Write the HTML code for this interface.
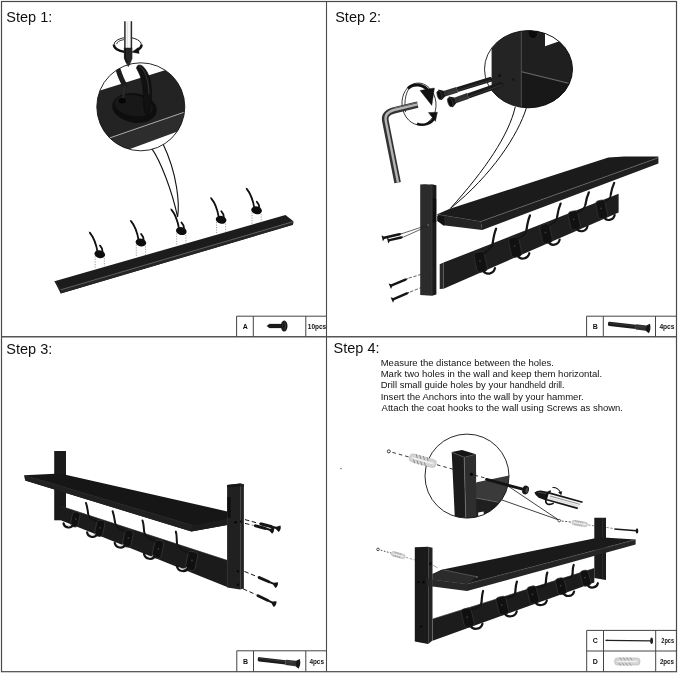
<!DOCTYPE html>
<html><head><meta charset="utf-8"><title>Assembly steps</title>
<style>html,body{margin:0;padding:0;background:#fff}svg{display:block;font-family:"Liberation Sans",sans-serif;will-change:transform;opacity:.999}</style>
</head><body>
<svg width="679" height="674" viewBox="0 0 679 674">
<rect width="679" height="674" fill="#fff"/>
<rect x="1.5" y="1.5" width="675" height="670.2" fill="none" stroke="#4a4a4a" stroke-width="1.2"/>
<line x1="326.5" y1="1.5" x2="326.5" y2="671.7" stroke="#4a4a4a" stroke-width="1.1" />
<line x1="1.5" y1="336.7" x2="676.5" y2="336.7" stroke="#555" stroke-width="1.4" />
<text x="6.3" y="21.8" font-size="14.5" fill="#111">Step 1:</text>
<text x="335.2" y="22.0" font-size="14.5" fill="#111">Step 2:</text>
<text x="6.3" y="353.6" font-size="14.5" fill="#111">Step 3:</text>
<text x="333.6" y="353.0" font-size="14.5" fill="#111">Step 4:</text>
<g stroke="#444" stroke-width="1" fill="none">
<path d="M236.6 316.2 H326.5 M236.6 316.2 V336.7 M253.3 316.2 V336.7 M305.8 316.2 V336.7"/>
</g>
<text x="245.2" y="329.1" font-size="7" font-weight="bold" text-anchor="middle" fill="#111">A</text>
<text x="307.8" y="328.6" font-size="7" font-weight="bold" fill="#111" textLength="18.4" lengthAdjust="spacingAndGlyphs">10pcs</text>
<g stroke="#444" stroke-width="1" fill="none">
<path d="M586.6 316.2 H676.5 M586.6 316.2 V336.7 M603.3 316.2 V336.7 M655.5 316.2 V336.7"/>
</g>
<text x="595.2" y="329.1" font-size="7" font-weight="bold" text-anchor="middle" fill="#111">B</text>
<text x="659.4" y="328.6" font-size="7" font-weight="bold" fill="#111" textLength="15.1" lengthAdjust="spacingAndGlyphs">4pcs</text>
<g stroke="#444" stroke-width="1" fill="none">
<path d="M236.8 650.8 H326.5 M236.8 650.8 V671.7 M253.5 650.8 V671.7 M305.8 650.8 V671.7"/>
</g>
<text x="245.5" y="663.9" font-size="7" font-weight="bold" text-anchor="middle" fill="#111">B</text>
<text x="309.4" y="663.5" font-size="7" font-weight="bold" fill="#111" textLength="14.6" lengthAdjust="spacingAndGlyphs">4pcs</text>
<g stroke="#444" stroke-width="1" fill="none">
<path d="M586.7 630.4 H676.5 M586.7 630.4 V671.7 M603.5 630.4 V671.7 M655.7 630.4 V671.7"/>
<path d="M586.7 651.0 H676.5"/>
</g>
<text x="595.4" y="643.3" font-size="7" font-weight="bold" text-anchor="middle" fill="#111">C</text>
<text x="661.3" y="642.9" font-size="7" font-weight="bold" fill="#111" textLength="12.7" lengthAdjust="spacingAndGlyphs">2pcs</text>
<text x="595.4" y="664.0" font-size="7" font-weight="bold" text-anchor="middle" fill="#111">D</text>
<text x="659.9" y="663.6" font-size="7" font-weight="bold" fill="#111" textLength="14.1" lengthAdjust="spacingAndGlyphs">2pcs</text>
<g>
<path d="M266.8 325.9 L269.4 324.1 H282 V327.9 H269.4 Z" stroke="#1a1a1a" stroke-width="0.3" fill="#1a1a1a" />
<ellipse cx="284.2" cy="326.1" rx="3.3" ry="5.5" fill="#141414"/>
<path d="M284.6 321.6 Q286.4 326 284.8 330.6" stroke="#4a4a4a" stroke-width="0.8" fill="none"/>
<path d="M283 322.6 Q282.2 326 283 329.6" stroke="#3a3a3a" stroke-width="0.6" fill="none"/>
</g>
<g transform="translate(608.0 323.7) rotate(6.62)">
<path d="M0 -0.86 Q0 -2.15 1.5 -2.15 H28.04 V2.15 H1.5 Q0 2.15 0 0.86 Z" fill="#1c1c1c"/>
<rect x="28.04" y="-2.69" width="10.44" height="5.38" fill="#303030"/>
<path d="M38.28 -2.69 L41.68 -4.90 Q43.68 0 41.68 4.90 L38.28 2.69 Z" fill="#161616"/>
<path d="M1.5 -0.75 H35.69" stroke="#4a4a4a" stroke-width="0.5"/>
</g>
<g transform="translate(257.8 659.1) rotate(6.62)">
<path d="M0 -0.86 Q0 -2.15 1.5 -2.15 H28.04 V2.15 H1.5 Q0 2.15 0 0.86 Z" fill="#1c1c1c"/>
<rect x="28.04" y="-2.69" width="10.44" height="5.38" fill="#303030"/>
<path d="M38.28 -2.69 L41.68 -4.90 Q43.68 0 41.68 4.90 L38.28 2.69 Z" fill="#161616"/>
<path d="M1.5 -0.75 H35.69" stroke="#4a4a4a" stroke-width="0.5"/>
</g>
<line x1="605.7" y1="640.4" x2="651.0" y2="640.8" stroke="#222" stroke-width="1.3" />
<ellipse cx="651.6" cy="640.8" rx="1.4" ry="3.2" fill="#222"/>
<path d="M605.2 640.4 L608 639.7 V641.1 Z" stroke="#222" stroke-width="0.2" fill="#222" />
<g transform="translate(614.6 661.5) rotate(0.00)">
<rect x="0" y="-3.60" width="25.40" height="7.20" rx="2.88" fill="#d4d4d4" stroke="#b0b0b0" stroke-width="0.5"/>
<path d="M5.08 -4.14 l2.10 3.24 M4.03 1.08 l2.10 3.24" stroke="#8a8a8a" stroke-width="0.79" fill="none"/>
<path d="M8.57 -4.14 l2.10 3.24 M7.52 1.08 l2.10 3.24" stroke="#8a8a8a" stroke-width="0.79" fill="none"/>
<path d="M12.06 -4.14 l2.10 3.24 M11.02 1.08 l2.10 3.24" stroke="#8a8a8a" stroke-width="0.79" fill="none"/>
<path d="M15.56 -4.14 l2.10 3.24 M14.51 1.08 l2.10 3.24" stroke="#8a8a8a" stroke-width="0.79" fill="none"/>
<path d="M2.54 0 H22.86" stroke="#f2f2f2" stroke-width="1.44"/>
</g>
<g id="step1">
<path d="M151.8 148.6 C160 160 172 190 177.6 217 C179.5 205 178 175 162.8 143.6 Z" stroke="#111" stroke-width="1.1" fill="#fff" />
<clipPath id="c1"><circle cx="140.8" cy="106.8" r="44"/></clipPath>
<circle cx="140.8" cy="106.8" r="44" fill="#fff"/>
<g clip-path="url(#c1)">
<polygon points="90.0,93.5 190.0,62.5 190.0,110.2 90.0,144.7" fill="#232323" />
<polygon points="90.0,144.7 190.0,110.2 190.0,126.8 90.0,163.8" fill="#2d2d2d" />
<line x1="90.0" y1="144.7" x2="190.0" y2="110.2" stroke="#a5a5a5" stroke-width="1.0" />
<ellipse cx="134.5" cy="108" rx="22.5" ry="14.6" transform="rotate(10 134.5 108)" fill="#0e0e0e"/>
<ellipse cx="133.5" cy="105.5" rx="19.5" ry="10.5" transform="rotate(10 133.5 105.5)" fill="#181818"/>
<path d="M118.4 70.4 C120 76 122.4 81 124.8 85.6" stroke="#1c1c1c" stroke-width="5.2" fill="none" stroke-linecap="round"/>
<path d="M124.6 86 L123.2 98" stroke="#2a2a2a" stroke-width="2.0" fill="none" stroke-linecap="round"/>
<ellipse cx="122.3" cy="100.8" rx="3.6" ry="2.7" fill="#050505"/>
<path d="M136.6 68.6 C136.4 64.5 140.5 63.6 144 67.5 C149 73 151.4 82 151.6 92 C151.8 103 150.5 112 147 115.4 C143.5 113.5 143.6 104 143.4 96 C143.2 86 142 78 136.6 68.6 Z" stroke="#0b0b0b" stroke-width="0.6" fill="#111" stroke-linejoin="round"/>
<path d="M139.5 66.4 C144.5 69 148.6 79 149 94" stroke="#303030" stroke-width="1.2" fill="none" stroke-linecap="round"/>
</g>
<circle cx="140.8" cy="106.8" r="44" fill="none" stroke="#111" stroke-width="0.9"/>
<path d="M113.9 44.8 A13.8 7.3 0 0 1 141.5 44.8" stroke="#111" stroke-width="0.9" fill="none" />
<path d="M116.6 44.2 A11 5.4 0 0 1 124 39.6" stroke="#111" stroke-width="0.8" fill="none" />
<path d="M113.9 44.6 A13.8 7.3 0 0 0 124.6 51.9" stroke="#111" stroke-width="2.4" fill="none" />
<path d="M141.5 44.6 A13.8 7.3 0 0 1 136.4 50.4" stroke="#111" stroke-width="2.6" fill="none" />
<path d="M131.6 52.2 L138.4 47.4 L139.2 53.6 Z" stroke="#111" stroke-width="0.3" fill="#111" />
<rect x="124.2" y="21.2" width="7.8" height="27" fill="#f6f6f6"/>
<line x1="124.9" y1="21.2" x2="124.9" y2="48.2" stroke="#2a2a2a" stroke-width="1.5" />
<line x1="131.4" y1="21.2" x2="131.4" y2="48.2" stroke="#2a2a2a" stroke-width="1.5" />
<line x1="127.4" y1="21.2" x2="127.4" y2="48.2" stroke="#dcdcdc" stroke-width="0.8" />
<path d="M124.1 47.9 H132.1 L132.1 58.4 L130.6 62.6 L128.3 66.7 L126 62.6 L124.3 58.4 Z" stroke="#1c1c1c" stroke-width="0.4" fill="#262626" />
<path d="M125.2 48.4 V58.4 L127 62.6" stroke="#111" stroke-width="1.6" fill="none" />
<polygon points="54.5,281.2 285.5,215.0 293.4,221.2 293.0,224.8 60.7,293.5" fill="#1c1c1c" />
<polygon points="60.7,289.9 293.3,221.7 293.0,224.8 60.7,293.5" fill="#262626" />
<line x1="60.7" y1="289.8" x2="293.3" y2="221.6" stroke="#707070" stroke-width="0.8" />
<line x1="54.6" y1="281.3" x2="60.6" y2="289.8" stroke="#3a3a3a" stroke-width="0.6" />
<line x1="95.2" y1="256.4" x2="95.2" y2="268.7" stroke="#8a8a8a" stroke-width="0.8" stroke-dasharray="1.2 1.3"/>
<line x1="104.4" y1="258.0" x2="104.4" y2="266.2" stroke="#8a8a8a" stroke-width="0.8" stroke-dasharray="1.2 1.3"/>
<ellipse cx="99.8" cy="254.2" rx="5.4" ry="3.9" transform="rotate(14 99.8 254.2)" fill="#0d0d0d"/>
<path d="M89.9 232.8 C93.6 237.2 96.4 245.2 97.6 252.2" stroke="#111" stroke-width="1.8" fill="none" stroke-linecap="round"/>
<path d="M89.5 232.0 C91.8 234.2 93.8 238.2 95.2 243.2" stroke="#111" stroke-width="0.8" fill="none" stroke-linecap="round"/>
<path d="M100.0 245.6 L102.0 248.6 L102.7 252.7" stroke="#111" stroke-width="1.8" fill="none" stroke-linecap="round" stroke-linejoin="round"/>
<line x1="136.3" y1="244.7" x2="136.3" y2="257.0" stroke="#8a8a8a" stroke-width="0.8" stroke-dasharray="1.2 1.3"/>
<line x1="145.5" y1="246.3" x2="145.5" y2="254.5" stroke="#8a8a8a" stroke-width="0.8" stroke-dasharray="1.2 1.3"/>
<ellipse cx="140.9" cy="242.5" rx="5.4" ry="3.9" transform="rotate(14 140.9 242.5)" fill="#0d0d0d"/>
<path d="M131.0 221.1 C134.7 225.5 137.5 233.5 138.7 240.5" stroke="#111" stroke-width="1.8" fill="none" stroke-linecap="round"/>
<path d="M130.6 220.3 C132.9 222.5 134.9 226.5 136.3 231.5" stroke="#111" stroke-width="0.8" fill="none" stroke-linecap="round"/>
<path d="M141.1 233.9 L143.1 236.9 L143.8 241.0" stroke="#111" stroke-width="1.8" fill="none" stroke-linecap="round" stroke-linejoin="round"/>
<line x1="176.7" y1="233.3" x2="176.7" y2="245.6" stroke="#8a8a8a" stroke-width="0.8" stroke-dasharray="1.2 1.3"/>
<line x1="185.9" y1="234.9" x2="185.9" y2="243.1" stroke="#8a8a8a" stroke-width="0.8" stroke-dasharray="1.2 1.3"/>
<ellipse cx="181.3" cy="231.1" rx="5.4" ry="3.9" transform="rotate(14 181.3 231.1)" fill="#0d0d0d"/>
<path d="M171.4 209.7 C175.1 214.1 177.9 222.1 179.1 229.1" stroke="#111" stroke-width="1.8" fill="none" stroke-linecap="round"/>
<path d="M171.0 208.9 C173.3 211.1 175.3 215.1 176.7 220.1" stroke="#111" stroke-width="0.8" fill="none" stroke-linecap="round"/>
<path d="M181.5 222.5 L183.5 225.5 L184.2 229.6" stroke="#111" stroke-width="1.8" fill="none" stroke-linecap="round" stroke-linejoin="round"/>
<line x1="216.5" y1="222.0" x2="216.5" y2="234.3" stroke="#8a8a8a" stroke-width="0.8" stroke-dasharray="1.2 1.3"/>
<line x1="225.7" y1="223.6" x2="225.7" y2="231.8" stroke="#8a8a8a" stroke-width="0.8" stroke-dasharray="1.2 1.3"/>
<ellipse cx="221.1" cy="219.8" rx="5.4" ry="3.9" transform="rotate(14 221.1 219.8)" fill="#0d0d0d"/>
<path d="M211.2 198.4 C214.9 202.8 217.7 210.8 218.9 217.8" stroke="#111" stroke-width="1.8" fill="none" stroke-linecap="round"/>
<path d="M210.8 197.6 C213.1 199.8 215.1 203.8 216.5 208.8" stroke="#111" stroke-width="0.8" fill="none" stroke-linecap="round"/>
<path d="M221.3 211.2 L223.3 214.2 L224.0 218.3" stroke="#111" stroke-width="1.8" fill="none" stroke-linecap="round" stroke-linejoin="round"/>
<line x1="252.0" y1="212.5" x2="252.0" y2="224.8" stroke="#8a8a8a" stroke-width="0.8" stroke-dasharray="1.2 1.3"/>
<line x1="261.2" y1="214.1" x2="261.2" y2="222.3" stroke="#8a8a8a" stroke-width="0.8" stroke-dasharray="1.2 1.3"/>
<ellipse cx="256.6" cy="210.3" rx="5.4" ry="3.9" transform="rotate(14 256.6 210.3)" fill="#0d0d0d"/>
<path d="M246.7 188.9 C250.4 193.3 253.2 201.3 254.4 208.3" stroke="#111" stroke-width="1.8" fill="none" stroke-linecap="round"/>
<path d="M246.3 188.1 C248.6 190.3 250.6 194.3 252.0 199.3" stroke="#111" stroke-width="0.8" fill="none" stroke-linecap="round"/>
<path d="M256.8 201.7 L258.8 204.7 L259.5 208.8" stroke="#111" stroke-width="1.8" fill="none" stroke-linecap="round" stroke-linejoin="round"/>
</g>
<g id="step2">
<path d="M515.3 106.6 C509 135 485 170 450.5 208.3" stroke="#111" stroke-width="1.0" fill="none" />
<path d="M526.4 107.8 C518 135 492 175 450.5 208.3" stroke="#111" stroke-width="1.0" fill="none" />
<clipPath id="c2"><ellipse cx="528.5" cy="69.2" rx="44" ry="38.6"/></clipPath>
<ellipse cx="528.5" cy="69.2" rx="44" ry="38.6" fill="#fff"/>
<g clip-path="url(#c2)">
<rect x="491.6" y="25" width="90" height="90" fill="#242424"/>
<rect x="521.6" y="25" width="60" height="90" fill="#1f1f1f"/>
<polygon points="521.6,72.0 568.4,83.2 580.0,86.0 580.0,120.0 521.6,120.0" fill="#181818" />
<line x1="521.3" y1="25.0" x2="521.3" y2="112.0" stroke="#555" stroke-width="0.9" />
<line x1="521.6" y1="71.8" x2="568.6" y2="83.2" stroke="#6a6a6a" stroke-width="1.1" />
<polygon points="545.0,32.0 545.0,46.2 560.0,41.0 560.0,32.0" fill="#fff" />
<ellipse cx="533" cy="32.5" rx="4.2" ry="5.5" fill="#0a0a0a"/>
<circle cx="499.5" cy="75.5" r="1.5" fill="#111"/>
<circle cx="513.4" cy="79.5" r="1.2" fill="#151515"/>
</g>
<ellipse cx="528.5" cy="69.2" rx="44" ry="38.6" fill="none" stroke="#111" stroke-width="0.9"/>
<ellipse cx="419" cy="104" rx="17" ry="21" transform="rotate(-6 419 104)" fill="#fff" stroke="#111" stroke-width="0.8"/>
<path d="M405.6 112 C403.6 100 406.4 90 411.6 85.6" stroke="#111" stroke-width="0.8" fill="none" />
<path d="M408 88.6 C413 83 424 83.4 429.6 92.6" stroke="#111" stroke-width="3.0" fill="none" />
<path d="M420 90.4 L434.4 88 L431.8 105.4 Z" stroke="#111" stroke-width="0.4" fill="#111" />
<path d="M417 123.8 C424 126.4 431.6 123.4 434.4 117.6" stroke="#111" stroke-width="2.6" fill="none" />
<path d="M428.4 112.6 L437.4 112.2 L435.4 121.4 Z" stroke="#111" stroke-width="0.4" fill="#111" />
<path d="M417.6 104.6 L394 110.4 C386.5 112.4 384.4 116 385.4 121 L397.6 182.6" stroke="#333" stroke-width="6.6" fill="none" stroke-linejoin="round"/>
<path d="M417.6 104.4 L394 110.0 C386.6 112 384.8 116 385.8 121 L398.0 182.6" stroke="#b4b4b4" stroke-width="2.4" fill="none" stroke-linejoin="round"/>
<path d="M417.6 102.4 L393.6 108.2" stroke="#777" stroke-width="0.8" fill="none" />
<g transform="translate(492.0 79.0) rotate(162.94)">
<path d="M0 -1.00 Q0 -2.50 1.5 -2.50 H36.45 V2.50 H1.5 Q0 2.50 0 1.00 Z" fill="#1a1a1a"/>
<rect x="36.45" y="-2.88" width="13.48" height="5.75" fill="#303030"/>
<path d="M49.73 -2.88 L54.43 -5.60 Q56.43 0 54.43 5.60 L49.73 2.88 Z" fill="#161616"/>
<path d="M1.5 -0.88 H46.39" stroke="#4a4a4a" stroke-width="0.5"/>
</g>
<g transform="translate(503.0 83.8) rotate(160.85)">
<path d="M0 -1.04 Q0 -2.60 1.5 -2.60 H37.03 V2.60 H1.5 Q0 2.60 0 1.04 Z" fill="#1a1a1a"/>
<rect x="37.03" y="-2.99" width="13.78" height="5.98" fill="#303030"/>
<path d="M50.60 -2.99 L55.30 -5.80 Q57.30 0 55.30 5.80 L50.60 2.99 Z" fill="#161616"/>
<path d="M1.5 -0.91 H47.13" stroke="#4a4a4a" stroke-width="0.5"/>
</g>
<ellipse cx="439.4" cy="95.2" rx="2.2" ry="4.6" transform="rotate(-17 439.4 95.2)" fill="#0c0c0c" stroke="#3c3c3c" stroke-width="0.7"/>
<ellipse cx="450.2" cy="102.2" rx="2.3" ry="4.8" transform="rotate(-19 450.2 102.2)" fill="#0c0c0c" stroke="#3c3c3c" stroke-width="0.7"/>
<polygon points="443.6,262.6 618.6,193.8 618.6,212.4 443.6,288.7" fill="#1e1e1e" />
<polygon points="439.7,264.2 443.6,262.6 443.6,288.7 439.7,288.9" fill="#292929" />
<polygon points="437.2,214.2 449.8,208.8 608.3,157.4 624.5,156.6 658.4,156.6 657.0,158.2 480.7,221.5" fill="#1b1b1b" />
<polygon points="480.7,221.5 657.0,158.2 658.4,156.6 658.4,163.6 482.2,230.1" fill="#1f1f1f" />
<polygon points="437.2,214.2 480.7,221.5 482.2,230.1 443.1,225.2" fill="#242424" />
<polygon points="437.2,215.5 444.0,216.6 444.4,225.4 443.1,225.2 437.2,221.0" fill="#111" />
<line x1="480.7" y1="221.5" x2="657.0" y2="158.2" stroke="#6a6a6a" stroke-width="0.7" />
<line x1="437.4" y1="214.3" x2="480.7" y2="221.5" stroke="#3a3a3a" stroke-width="0.5" />
<polygon points="420.2,184.6 432.0,184.6 432.0,295.7 420.2,295.0" fill="#2b2b2b" />
<polygon points="432.0,184.6 436.4,185.2 436.4,294.6 432.0,295.7" fill="#1a1a1a" />
<polygon points="420.2,184.6 432.0,184.6 436.4,185.2 424.6,183.9" fill="#141414" />
<polygon points="432.6,198.0 436.2,199.0 436.2,222.0 432.6,223.0" fill="#0e0e0e" />
<line x1="432.0" y1="185.0" x2="432.0" y2="295.4" stroke="#444" stroke-width="0.6" />
<rect x="475.3" y="251.7" width="10.6" height="20.4" rx="3.6" transform="rotate(-12 480.6 261.9)" fill="#111" stroke="#343434" stroke-width="0.7"/>
<circle cx="480.0" cy="260.9" r="0.9" fill="#3a3a3a"/>
<path d="M484.1 252.9 C488.6 250.9 492.1 247.0 492.7 243.0" stroke="#141414" stroke-width="1.7" fill="none" stroke-linecap="round"/>
<path d="M492.7 243.0 C493.3 239.0 494.3 232.7 496.1 228.7" stroke="#141414" stroke-width="2.2" fill="none" stroke-linecap="round"/>
<path d="M483.1 270.5 C485.6 275.5 493.6 274.5 495.0 268.1" stroke="#141414" stroke-width="2.2" fill="none" stroke-linecap="round"/>
<rect x="510.0" y="237.1" width="10.4" height="20.0" rx="3.6" transform="rotate(-12 515.2 247.1)" fill="#111" stroke="#343434" stroke-width="0.7"/>
<circle cx="514.6" cy="246.1" r="0.9" fill="#3a3a3a"/>
<path d="M518.7 238.3 C523.2 236.3 526.0 233.1 526.6 229.1" stroke="#141414" stroke-width="1.7" fill="none" stroke-linecap="round"/>
<path d="M526.6 229.1 C527.2 225.1 528.2 219.5 530.0 215.5" stroke="#141414" stroke-width="2.2" fill="none" stroke-linecap="round"/>
<path d="M517.7 255.5 C520.1 260.4 527.9 259.4 529.3 253.2" stroke="#141414" stroke-width="2.2" fill="none" stroke-linecap="round"/>
<rect x="541.0" y="223.9" width="10.1" height="19.4" rx="3.6" transform="rotate(-12 546.0 233.6)" fill="#111" stroke="#343434" stroke-width="0.7"/>
<circle cx="545.4" cy="232.6" r="0.9" fill="#3a3a3a"/>
<path d="M549.5 225.0 C554.0 223.2 556.6 220.5 557.2 216.5" stroke="#141414" stroke-width="1.7" fill="none" stroke-linecap="round"/>
<path d="M557.2 216.5 C557.8 212.5 558.8 207.6 560.6 203.6" stroke="#141414" stroke-width="2.2" fill="none" stroke-linecap="round"/>
<path d="M548.4 241.8 C550.8 246.5 558.4 245.6 559.7 239.5" stroke="#141414" stroke-width="2.2" fill="none" stroke-linecap="round"/>
<rect x="569.4" y="211.0" width="9.8" height="18.8" rx="3.6" transform="rotate(-12 574.3 220.4)" fill="#111" stroke="#343434" stroke-width="0.7"/>
<circle cx="573.7" cy="219.4" r="0.9" fill="#3a3a3a"/>
<path d="M577.8 212.1 C582.3 210.3 584.9 208.4 585.5 204.4" stroke="#141414" stroke-width="1.7" fill="none" stroke-linecap="round"/>
<path d="M585.5 204.4 C586.1 200.4 587.1 196.3 588.9 192.3" stroke="#141414" stroke-width="2.2" fill="none" stroke-linecap="round"/>
<path d="M576.6 228.3 C578.9 232.9 586.3 232.0 587.5 226.1" stroke="#141414" stroke-width="2.2" fill="none" stroke-linecap="round"/>
<rect x="596.9" y="200.2" width="9.5" height="18.4" rx="3.6" transform="rotate(-12 601.7 209.4)" fill="#111" stroke="#343434" stroke-width="0.7"/>
<circle cx="601.1" cy="208.4" r="0.9" fill="#3a3a3a"/>
<path d="M605.2 201.3 C609.7 199.5 610.2 198.3 610.8 194.3" stroke="#141414" stroke-width="1.7" fill="none" stroke-linecap="round"/>
<path d="M610.8 194.3 C611.4 190.3 612.4 186.9 614.2 182.9" stroke="#141414" stroke-width="2.2" fill="none" stroke-linecap="round"/>
<path d="M604.0 217.1 C606.2 221.6 613.4 220.7 614.7 215.0" stroke="#141414" stroke-width="2.2" fill="none" stroke-linecap="round"/>
<g transform="translate(382.2 238.2) rotate(-12.83)">
<path d="M0 -3.00 L2 -1.20 H17.72 L20.72 0 L17.72 1.20 H2 L0 3.00 Z" fill="#151515"/>
</g>
<g transform="translate(387.6 240.6) rotate(-13.05)">
<path d="M0 -3.00 L2 -1.20 H13.83 L16.83 0 L13.83 1.20 H2 L0 3.00 Z" fill="#151515"/>
</g>
<line x1="402.0" y1="233.6" x2="428.6" y2="224.8" stroke="#222" stroke-width="0.7" />
<line x1="404.0" y1="236.8" x2="428.6" y2="225.8" stroke="#222" stroke-width="0.7" />
<g transform="translate(389.8 286.2) rotate(-22.97)">
<path d="M0 -3.00 L2 -1.20 H16.98 L19.98 0 L16.98 1.20 H2 L0 3.00 Z" fill="#151515"/>
</g>
<line x1="408.6" y1="278.2" x2="421.0" y2="274.4" stroke="#222" stroke-width="0.7" stroke-dasharray="3.4 1.6"/>
<g transform="translate(391.8 300.0) rotate(-23.66)">
<path d="M0 -3.00 L2 -1.20 H16.43 L19.43 0 L16.43 1.20 H2 L0 3.00 Z" fill="#151515"/>
</g>
<line x1="410.0" y1="292.0" x2="421.0" y2="287.6" stroke="#222" stroke-width="0.7" stroke-dasharray="3.4 1.6"/>
<circle cx="428.2" cy="225" r="0.9" fill="#666"/>
<circle cx="425.6" cy="276" r="1.1" fill="#111" stroke="#555" stroke-width="0.4"/>
<circle cx="425.6" cy="291.4" r="1.1" fill="#111" stroke="#555" stroke-width="0.4"/>
</g>
<g id="step3">
<polygon points="54.2,451.0 66.0,451.0 66.0,520.3 54.2,520.3" fill="#1a1a1a" />
<polygon points="61.5,506.3 227.2,560.2 227.2,587.0 61.5,520.6" fill="#1b1b1b" />
<line x1="61.5" y1="506.4" x2="227.2" y2="560.4" stroke="#333" stroke-width="0.6" />
<polygon points="227.1,485.0 240.2,483.4 240.2,589.4 227.1,587.6" fill="#202020" />
<polygon points="227.1,485.0 240.2,483.4 243.9,484.2 243.9,486.4 227.1,487.2" fill="#161616" />
<polygon points="240.2,483.4 243.9,484.2 243.9,588.6 240.2,589.4" fill="#242424" />
<polygon points="227.4,497.0 230.6,497.6 230.6,517.8 227.4,517.2" fill="#0e0e0e" />
<polygon points="24.3,475.3 60.0,473.4 227.2,511.4 227.2,525.0 191.4,531.4 25.2,480.6" fill="#161616" />
<polygon points="24.4,475.4 192.4,525.4 191.4,531.4 25.2,480.6" fill="#202020" />
<polygon points="192.4,525.4 227.2,518.6 227.2,525.0 191.4,531.4" fill="#1c1c1c" />
<line x1="24.6" y1="475.4" x2="192.4" y2="525.4" stroke="#3c3c3c" stroke-width="0.5" />
<rect x="71.4" y="511.9" width="7.7" height="15.1" rx="3.4" transform="rotate(12 75.3 519.5)" fill="#101010" stroke="#3a3a3a" stroke-width="0.7"/>
<circle cx="75.7" cy="519.0" r="0.9" fill="#3a3a3a"/>
<path d="M63.5 523.3 C64.4 528.3 71.1 528.7 73.1 525.0" stroke="#141414" stroke-width="2.2" fill="none" stroke-linecap="round"/>
<path d="M65.7 524.5 C66.9 526.2 69.8 526.2 71.1 524.9" stroke="#d8d8d8" stroke-width="1.0" fill="none" stroke-linecap="round"/>
<rect x="95.6" y="520.2" width="8.3" height="16.2" rx="3.4" transform="rotate(12 99.7 528.3)" fill="#101010" stroke="#3a3a3a" stroke-width="0.7"/>
<circle cx="100.1" cy="527.8" r="0.9" fill="#3a3a3a"/>
<path d="M96.7 521.1 C93.7 521.1 88.7 518.4 88.1 513.4" stroke="#141414" stroke-width="1.6" fill="none" stroke-linecap="round"/>
<path d="M88.1 513.4 C87.5 509.4 87.4 507.0 86.0 503.0" stroke="#141414" stroke-width="2.0" fill="none" stroke-linecap="round"/>
<path d="M87.1 532.3 C88.0 537.8 95.2 538.2 97.4 534.1" stroke="#141414" stroke-width="2.2" fill="none" stroke-linecap="round"/>
<path d="M89.4 533.7 C90.7 535.5 93.9 535.5 95.2 534.1" stroke="#d8d8d8" stroke-width="1.0" fill="none" stroke-linecap="round"/>
<rect x="123.6" y="530.0" width="8.7" height="17.1" rx="3.4" transform="rotate(12 128.0 538.5)" fill="#101010" stroke="#3a3a3a" stroke-width="0.7"/>
<circle cx="128.4" cy="538.0" r="0.9" fill="#3a3a3a"/>
<path d="M125.0 530.9 C122.0 530.9 115.6 527.1 115.0 522.1" stroke="#141414" stroke-width="1.6" fill="none" stroke-linecap="round"/>
<path d="M115.0 522.1 C114.4 518.1 114.0 515.2 112.6 511.2" stroke="#141414" stroke-width="2.0" fill="none" stroke-linecap="round"/>
<path d="M114.7 542.8 C115.7 548.5 123.2 549.0 125.5 544.7" stroke="#141414" stroke-width="2.2" fill="none" stroke-linecap="round"/>
<path d="M117.2 544.2 C118.5 546.1 121.8 546.1 123.2 544.6" stroke="#d8d8d8" stroke-width="1.0" fill="none" stroke-linecap="round"/>
<rect x="153.4" y="540.3" width="9.2" height="18.0" rx="3.4" transform="rotate(12 158.0 549.3)" fill="#101010" stroke="#3a3a3a" stroke-width="0.7"/>
<circle cx="158.4" cy="548.8" r="0.9" fill="#3a3a3a"/>
<path d="M155.0 541.3 C152.0 541.3 144.8 536.7 144.2 531.7" stroke="#141414" stroke-width="1.6" fill="none" stroke-linecap="round"/>
<path d="M144.2 531.7 C143.6 527.7 143.9 524.5 142.5 520.5" stroke="#141414" stroke-width="2.0" fill="none" stroke-linecap="round"/>
<path d="M144.0 553.8 C145.0 559.8 153.0 560.3 155.4 555.8" stroke="#141414" stroke-width="2.2" fill="none" stroke-linecap="round"/>
<path d="M146.6 555.3 C148.0 557.3 151.5 557.3 153.0 555.7" stroke="#d8d8d8" stroke-width="1.0" fill="none" stroke-linecap="round"/>
<rect x="186.7" y="551.5" width="9.8" height="19.1" rx="3.4" transform="rotate(12 191.6 561.0)" fill="#101010" stroke="#3a3a3a" stroke-width="0.7"/>
<circle cx="192.0" cy="560.5" r="0.9" fill="#3a3a3a"/>
<path d="M188.6 552.5 C185.6 552.5 177.6 548.0 177.0 543.0" stroke="#141414" stroke-width="1.6" fill="none" stroke-linecap="round"/>
<path d="M177.0 543.0 C176.4 539.0 177.2 535.6 175.8 531.6" stroke="#141414" stroke-width="2.0" fill="none" stroke-linecap="round"/>
<path d="M176.8 565.8 C177.8 572.1 186.3 572.7 188.8 567.9" stroke="#141414" stroke-width="2.2" fill="none" stroke-linecap="round"/>
<path d="M179.5 567.4 C181.0 569.5 184.7 569.5 186.3 567.8" stroke="#d8d8d8" stroke-width="1.0" fill="none" stroke-linecap="round"/>
<g transform="translate(259.0 523.4) rotate(14.66)">
<path d="M0 0 L1.5 -1.50 H13.27 L14.16 -1.05 H17.70 L21.32 -3.40 Q23.32 0 21.32 3.40 L17.70 1.05 H14.16 L13.27 1.50 H1.5 Z" fill="#141414"/>
</g>
<g transform="translate(253.4 525.2) rotate(15.35)">
<path d="M0 0 L1.5 -1.50 H12.69 L13.54 -1.05 H16.92 L20.35 -3.40 Q22.35 0 20.35 3.40 L16.92 1.05 H13.54 L12.69 1.50 H1.5 Z" fill="#141414"/>
</g>
<line x1="245.0" y1="519.6" x2="258.0" y2="523.2" stroke="#1a1a1a" stroke-width="1.0" stroke-dasharray="4.5 2.5"/>
<line x1="245.0" y1="523.4" x2="252.6" y2="525.2" stroke="#1a1a1a" stroke-width="1.0" stroke-dasharray="4.5 2.5"/>
<g transform="translate(257.4 576.8) rotate(23.27)">
<path d="M0 0 L1.5 -1.40 H13.06 L13.93 -0.98 H17.42 L20.97 -3.20 Q22.97 0 20.97 3.20 L17.42 0.98 H13.93 L13.06 1.40 H1.5 Z" fill="#141414"/>
</g>
<line x1="244.4" y1="571.4" x2="257.0" y2="576.6" stroke="#1a1a1a" stroke-width="1.0" stroke-dasharray="4.5 2.5"/>
<g transform="translate(256.2 594.8) rotate(26.10)">
<path d="M0 0 L1.5 -1.40 H13.09 L13.97 -0.98 H17.46 L21.02 -3.20 Q23.02 0 21.02 3.20 L17.46 0.98 H13.97 L13.09 1.40 H1.5 Z" fill="#141414"/>
</g>
<line x1="243.0" y1="588.8" x2="256.0" y2="594.6" stroke="#1a1a1a" stroke-width="1.0" stroke-dasharray="4.5 2.5"/>
<circle cx="235.5" cy="522.2" r="1.2" fill="#050505"/><circle cx="240.8" cy="521.6" r="1.1" fill="#050505"/>
<circle cx="237.9" cy="571.3" r="1.1" fill="#050505"/><circle cx="237.9" cy="584.7" r="1.1" fill="#050505"/>
</g>
<g id="step4">
<text x="380.7" y="365.5" font-size="9.5" fill="#111" textLength="173.2" lengthAdjust="spacingAndGlyphs">Measure the distance between the holes.</text>
<text x="380.7" y="376.8" font-size="9.5" fill="#111" textLength="221.4" lengthAdjust="spacingAndGlyphs">Mark two holes in the wall and keep them horizontal.</text>
<text x="380.7" y="399.5" font-size="9.5" fill="#111" textLength="203.0" lengthAdjust="spacingAndGlyphs">Insert the Anchors into the wall by your hammer.</text>
<text x="381.6" y="410.8" font-size="9.5" fill="#111" textLength="241.4" lengthAdjust="spacingAndGlyphs">Attach the coat hooks to the wall using Screws as shown.</text>
<text y="388.2" font-size="9.5" fill="#111"><tspan x="380.7" textLength="126.2" lengthAdjust="spacingAndGlyphs">Drill small guide holes by your</tspan> <tspan x="509.8" font-size="8.8" textLength="54.7" lengthAdjust="spacingAndGlyphs">handheld drill.</tspan></text>
<circle cx="341" cy="468.6" r="0.7" fill="#333"/>
<line x1="506.2" y1="484.8" x2="558.4" y2="519.8" stroke="#111" stroke-width="0.8" />
<line x1="502.0" y1="500.0" x2="558.4" y2="519.8" stroke="#111" stroke-width="0.8" />
<clipPath id="c4"><circle cx="467" cy="476.1" r="42"/></clipPath>
<circle cx="467" cy="476.1" r="42" fill="#fff"/>
<g clip-path="url(#c4)">
<polygon points="476.7,482.3 509.5,475.5 514.0,500.0 498.0,502.2 467.1,496.3" fill="#3a3a3a" />
<polygon points="467.1,496.3 498.0,502.2 514.0,499.6 514.0,530.0 467.0,530.0" fill="#1f1f1f" />
<line x1="467.1" y1="496.3" x2="498.0" y2="502.2" stroke="#6a6a6a" stroke-width="0.7" />
<polygon points="478.2,512.6 483.6,511.4 484.4,520.0 478.2,520.0" fill="#fff" />
<polygon points="451.7,452.1 464.2,457.2 466.0,530.0 455.4,530.0" fill="#1b1b1b" />
<polygon points="464.2,457.2 476.0,454.3 476.4,530.0 466.0,530.0" fill="#2e2e2e" />
<polygon points="451.7,452.1 462.0,449.9 476.0,454.3 464.2,457.2" fill="#151515" />
<line x1="464.2" y1="457.2" x2="465.8" y2="520.0" stroke="#777" stroke-width="0.7" />
<line x1="451.9" y1="452.3" x2="464.2" y2="457.2" stroke="#555" stroke-width="0.6" />
<line x1="464.2" y1="457.2" x2="476.0" y2="454.3" stroke="#555" stroke-width="0.6" />
<circle cx="471.5" cy="474.3" r="2.1" fill="#080808" stroke="#444" stroke-width="0.5"/>
</g>
<circle cx="467" cy="476.1" r="42" fill="none" stroke="#111" stroke-width="0.9"/>
<circle cx="388.8" cy="451.4" r="1.5" fill="#fff" stroke="#111" stroke-width="0.8"/>
<line x1="392.4" y1="452.4" x2="453.0" y2="469.2" stroke="#222" stroke-width="0.9" stroke-dasharray="3.6 3"/>
<line x1="474.6" y1="475.2" x2="486.0" y2="478.2" stroke="#222" stroke-width="0.9" stroke-dasharray="3.6 3"/>
<g transform="translate(409.6 457.0) rotate(15.66)">
<rect x="0" y="-4.00" width="27.42" height="8.00" rx="3.20" fill="#d4d4d4" stroke="#b0b0b0" stroke-width="0.5"/>
<path d="M5.48 -4.60 l2.26 3.60 M4.35 1.20 l2.26 3.60" stroke="#8a8a8a" stroke-width="0.88" fill="none"/>
<path d="M9.25 -4.60 l2.26 3.60 M8.12 1.20 l2.26 3.60" stroke="#8a8a8a" stroke-width="0.88" fill="none"/>
<path d="M13.02 -4.60 l2.26 3.60 M11.89 1.20 l2.26 3.60" stroke="#8a8a8a" stroke-width="0.88" fill="none"/>
<path d="M16.79 -4.60 l2.26 3.60 M15.66 1.20 l2.26 3.60" stroke="#8a8a8a" stroke-width="0.88" fill="none"/>
<path d="M2.74 0 H24.68" stroke="#f2f2f2" stroke-width="1.60"/>
</g>
<line x1="486.6" y1="479.4" x2="523.6" y2="489.4" stroke="#131313" stroke-width="2.9" stroke-linecap="round"/>
<ellipse cx="525.6" cy="490.0" rx="3.3" ry="4.4" transform="rotate(15 525.6 490)" fill="#151515"/>
<ellipse cx="526.8" cy="490.3" rx="1.3" ry="3.0" transform="rotate(15 526.8 490.3)" fill="#444"/>
<g transform="translate(534.4 492.6) rotate(15.5)">
<rect x="14" y="-3.9" width="34" height="7.8" fill="#f2f2f2"/>
<path d="M14 -3.6 H49 M14 3.6 H46" stroke="#161616" stroke-width="1.6"/>
<path d="M16 -0.8 H47" stroke="#8a8a8a" stroke-width="1.0"/>
<path d="M16 1.2 H46" stroke="#cfcfcf" stroke-width="0.8"/>
<path d="M0 0 Q2 -3 5.5 -3.8 L14 -4.6 V4.6 L5.5 3.8 Q2 3 0 0 Z" fill="#151515"/>
<path d="M3 -1.2 L12 -2.4" stroke="#555" stroke-width="0.7"/>
<path d="M15.6 -5.6 C11.5 -5 11.5 6.5 15.6 7.4 C18 7.8 20 6.6 21.4 5.0" fill="none" stroke="#111" stroke-width="1.7"/>
<path d="M16 -9.6 C19.5 -11 23.5 -9.6 25.4 -6.6" fill="none" stroke="#111" stroke-width="1.0"/>
<path d="M26.6 -4.6 L22.8 -6.6 L26.4 -8.6 Z" fill="#111"/>
</g>
<polygon points="594.3,517.8 606.0,517.8 606.0,580.0 594.3,578.0" fill="#1b1b1b" />
<line x1="602.6" y1="518.0" x2="602.6" y2="579.4" stroke="#383838" stroke-width="0.6" />
<polygon points="432.6,618.9 594.3,568.3 594.3,582.4 432.6,640.8" fill="#1c1c1c" />
<line x1="432.6" y1="619.0" x2="594.3" y2="568.4" stroke="#363636" stroke-width="0.6" />
<polygon points="441.4,569.8 600.0,537.2 635.6,539.6 467.0,583.9 432.6,579.4 432.6,573.9" fill="#1a1a1a" />
<polygon points="467.0,583.9 635.6,539.6 635.6,544.6 467.0,591.0" fill="#252525" />
<polygon points="432.6,579.4 467.0,583.9 467.0,591.0 432.6,586.6" fill="#282828" />
<line x1="467.0" y1="583.9" x2="635.6" y2="539.8" stroke="#4c4c4c" stroke-width="0.6" />
<line x1="427.0" y1="578.6" x2="467.0" y2="583.9" stroke="#4a4a4a" stroke-width="0.6" />
<polygon points="432.6,579.4 432.6,573.9 443.3,569.7 477.0,576.8 467.3,583.9" fill="#2b2b2b" />
<path d="M443.3 569.8 L477 576.8" stroke="#5a5a5a" stroke-width="0.8" fill="none" />
<circle cx="477" cy="577" r="0.9" fill="#666"/>
<polygon points="414.8,547.2 428.2,546.8 428.2,644.0 414.8,641.6" fill="#1a1a1a" />
<polygon points="428.2,546.8 432.5,547.8 432.5,640.4 428.2,644.0" fill="#232323" />
<polygon points="426.6,578.6 432.8,579.6 432.8,586.4 426.6,585.4" fill="#262626" />
<circle cx="418.3" cy="582.1" r="1.2" fill="#060606"/><circle cx="423.6" cy="582.3" r="1.2" fill="#060606"/>
<circle cx="420.8" cy="626.6" r="1.1" fill="#060606"/><circle cx="430.6" cy="563.9" r="1.4" fill="#050505"/>
<rect x="462.6" y="608.3" width="10.2" height="18.8" rx="3.4" transform="rotate(-14 467.7 617.7)" fill="#101010" stroke="#343434" stroke-width="0.7"/>
<circle cx="467.2" cy="617.2" r="0.9" fill="#3a3a3a"/>
<path d="M471.2 609.3 C474.7 608.7 480.9 607.3 481.5 602.3" stroke="#141414" stroke-width="1.7" fill="none" stroke-linecap="round"/>
<path d="M481.5 602.3 C482.0 598.3 481.7 595.0 483.1 591.0" stroke="#141414" stroke-width="2.2" fill="none" stroke-linecap="round"/>
<path d="M470.3 625.9 C473.2 630.5 481.1 629.5 482.5 623.7" stroke="#141414" stroke-width="2.2" fill="none" stroke-linecap="round"/>
<rect x="497.4" y="596.5" width="9.9" height="18.2" rx="3.4" transform="rotate(-14 502.3 605.6)" fill="#101010" stroke="#343434" stroke-width="0.7"/>
<circle cx="501.8" cy="605.1" r="0.9" fill="#3a3a3a"/>
<path d="M505.7 597.5 C509.1 596.9 514.6 597.8 515.2 592.8" stroke="#141414" stroke-width="1.7" fill="none" stroke-linecap="round"/>
<path d="M515.2 592.8 C515.7 588.8 515.5 585.6 516.9 581.6" stroke="#141414" stroke-width="2.2" fill="none" stroke-linecap="round"/>
<path d="M504.8 613.6 C507.6 618.0 515.3 617.0 516.7 611.4" stroke="#141414" stroke-width="2.2" fill="none" stroke-linecap="round"/>
<rect x="528.3" y="586.1" width="9.5" height="17.5" rx="3.4" transform="rotate(-14 533.0 594.8)" fill="#101010" stroke="#343434" stroke-width="0.7"/>
<circle cx="532.5" cy="594.3" r="0.9" fill="#3a3a3a"/>
<path d="M536.3 587.0 C539.5 586.4 545.2 587.6 545.8 582.6" stroke="#141414" stroke-width="1.7" fill="none" stroke-linecap="round"/>
<path d="M545.8 582.6 C546.3 578.6 545.9 576.6 547.3 572.6" stroke="#141414" stroke-width="2.2" fill="none" stroke-linecap="round"/>
<path d="M535.4 602.4 C538.1 606.7 545.5 605.8 546.8 600.4" stroke="#141414" stroke-width="2.2" fill="none" stroke-linecap="round"/>
<rect x="556.6" y="577.9" width="9.0" height="16.5" rx="3.4" transform="rotate(-14 561.1 586.2)" fill="#101010" stroke="#343434" stroke-width="0.7"/>
<circle cx="560.6" cy="585.7" r="0.9" fill="#3a3a3a"/>
<path d="M564.2 578.8 C567.3 578.3 571.9 579.2 572.5 574.2" stroke="#141414" stroke-width="1.7" fill="none" stroke-linecap="round"/>
<path d="M572.5 574.2 C573.0 570.2 572.3 569.0 573.7 565.0" stroke="#141414" stroke-width="2.2" fill="none" stroke-linecap="round"/>
<path d="M563.4 593.4 C565.9 597.5 572.9 596.6 574.1 591.5" stroke="#141414" stroke-width="2.2" fill="none" stroke-linecap="round"/>
<rect x="581.2" y="570.3" width="8.6" height="15.8" rx="3.4" transform="rotate(-14 585.5 578.2)" fill="#101010" stroke="#343434" stroke-width="0.7"/>
<circle cx="585.0" cy="577.7" r="0.9" fill="#3a3a3a"/>
<path d="M587.7 585.1 C590.1 589.0 596.8 588.1 597.9 583.2" stroke="#141414" stroke-width="2.2" fill="none" stroke-linecap="round"/>
<circle cx="378" cy="549.4" r="1.3" fill="#fff" stroke="#111" stroke-width="0.7"/>
<line x1="380.8" y1="550.2" x2="391.0" y2="553.0" stroke="#222" stroke-width="0.8" stroke-dasharray="1.6 1.6"/>
<g transform="translate(391.4 553.2) rotate(15.61)">
<rect x="0" y="-2.20" width="14.12" height="4.40" rx="1.76" fill="#d4d4d4" stroke="#b0b0b0" stroke-width="0.5"/>
<path d="M2.82 -2.53 l1.16 1.98 M2.24 0.66 l1.16 1.98" stroke="#8a8a8a" stroke-width="0.50" fill="none"/>
<path d="M4.77 -2.53 l1.16 1.98 M4.18 0.66 l1.16 1.98" stroke="#8a8a8a" stroke-width="0.50" fill="none"/>
<path d="M6.71 -2.53 l1.16 1.98 M6.12 0.66 l1.16 1.98" stroke="#8a8a8a" stroke-width="0.50" fill="none"/>
<path d="M8.65 -2.53 l1.16 1.98 M8.07 0.66 l1.16 1.98" stroke="#8a8a8a" stroke-width="0.50" fill="none"/>
<path d="M1.41 0 H12.71" stroke="#f2f2f2" stroke-width="0.88"/>
</g>
<line x1="406.0" y1="557.4" x2="415.0" y2="560.0" stroke="#777" stroke-width="0.7" stroke-dasharray="2.4 1.6"/>
<line x1="431.6" y1="564.4" x2="437.8" y2="568.0" stroke="#888" stroke-width="0.7" />
<circle cx="559.2" cy="520.6" r="1.3" fill="#fff" stroke="#111" stroke-width="0.7"/>
<line x1="561.6" y1="521.0" x2="571.4" y2="522.2" stroke="#222" stroke-width="0.8" stroke-dasharray="2 1.6"/>
<g transform="translate(572.0 522.2) rotate(9.58)">
<rect x="0" y="-2.20" width="15.62" height="4.40" rx="1.76" fill="#d4d4d4" stroke="#b0b0b0" stroke-width="0.5"/>
<path d="M3.12 -2.53 l1.29 1.98 M2.48 0.66 l1.29 1.98" stroke="#8a8a8a" stroke-width="0.50" fill="none"/>
<path d="M5.27 -2.53 l1.29 1.98 M4.63 0.66 l1.29 1.98" stroke="#8a8a8a" stroke-width="0.50" fill="none"/>
<path d="M7.42 -2.53 l1.29 1.98 M6.77 0.66 l1.29 1.98" stroke="#8a8a8a" stroke-width="0.50" fill="none"/>
<path d="M9.57 -2.53 l1.29 1.98 M8.92 0.66 l1.29 1.98" stroke="#8a8a8a" stroke-width="0.50" fill="none"/>
<path d="M1.56 0 H14.06" stroke="#f2f2f2" stroke-width="0.88"/>
</g>
<line x1="588.4" y1="525.0" x2="594.0" y2="525.8" stroke="#555" stroke-width="0.7" stroke-dasharray="2 1.6"/>
<line x1="606.4" y1="527.4" x2="613.6" y2="528.6" stroke="#555" stroke-width="0.7" stroke-dasharray="2.4 1.6"/>
<line x1="614.4" y1="529.0" x2="636.4" y2="530.8" stroke="#151515" stroke-width="1.5" />
<ellipse cx="637" cy="530.9" rx="1.3" ry="2.6" fill="#151515"/>
</g>
</svg>
</body></html>
